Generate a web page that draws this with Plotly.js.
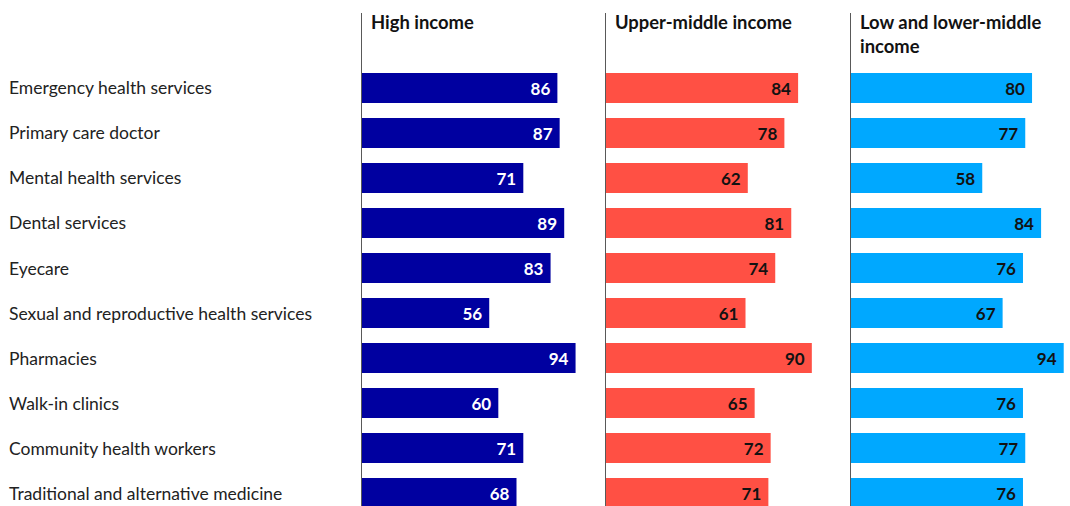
<!DOCTYPE html>
<html>
<head>
<meta charset="utf-8">
<script src="https://cdn.plot.ly/plotly-3.0.1.min.js"></script>
<style>html,body{margin:0;padding:0;background:#fff;}#chart{width:1070px;height:506px;}</style>
</head>
<body>
<div id="chart"></div>
<script>
const categories = [
  "Emergency health services",
  "Primary care doctor",
  "Mental health services",
  "Dental services",
  "Eyecare",
  "Sexual and reproductive health services",
  "Pharmacies",
  "Walk-in clinics",
  "Community health workers",
  "Traditional and alternative medicine"
];
const highIncome = [86, 87, 71, 89, 83, 56, 94, 60, 71, 68];
const upperMiddleIncome = [84, 78, 62, 81, 74, 61, 90, 65, 72, 71];
const lowLowerMiddleIncome = [80, 77, 58, 84, 76, 67, 94, 76, 77, 76];
const panelTitles = ["High income", "Upper-middle income", "Low and lower-middle<br>income"];

const W = 1070, H = 506;
const FONT = "Lato, 'Noto Sans', sans-serif";
const colors = ["#0000a0", "#ff5044", "#00a8ff"];
const textColors = ["#ffffff", "#121212", "#121212"];
const series = [highIncome, upperMiddleIncome, lowLowerMiddleIncome];
const xDomains = [[362, 606], [606, 851], [851, 1070]];
const pxPerUnit = [2.272, 2.287, 2.263];

const traces = series.map((vals, i) => ({
  type: "bar",
  orientation: "h",
  x: vals,
  y: categories,
  xaxis: i === 0 ? "x" : "x" + (i + 1),
  yaxis: i === 0 ? "y" : "y" + (i + 1),
  marker: {color: colors[i], line: {width: 0}},
  width: 0.667,
  texttemplate: "%{x}\u00a0",
  textposition: "inside",
  insidetextanchor: "end",
  textangle: 0,
  constraintext: "none",
  textfont: {family: FONT, size: 17, color: textColors[i], weight: 700},
  hoverinfo: "none",
  cliponaxis: true
}));

const yTop = 13;
const rowCenter0 = 88, rowStep = 45;
const yRange = [(H - rowCenter0) / rowStep, (yTop - rowCenter0) / rowStep];

const layout = {
  width: W, height: H,
  margin: {l: 0, r: 0, t: 0, b: 0},
  paper_bgcolor: "#ffffff",
  plot_bgcolor: "#ffffff",
  showlegend: false,
  bargap: 0.333,
  annotations: [],
  font: {family: FONT}
};

for (let i = 0; i < 3; i++) {
  const sx = i === 0 ? "" : String(i + 1);
  const d = xDomains[i];
  layout["xaxis" + sx] = {
    domain: [d[0] / W, d[1] / W],
    range: [0, (d[1] - d[0]) / pxPerUnit[i]],
    showgrid: false, zeroline: false, showticklabels: false, showline: false,
    fixedrange: true
  };
  layout["yaxis" + sx] = {
    domain: [0, 1 - yTop / H],
    type: "category",
    categoryarray: categories,
    range: yRange,
    anchor: i === 0 ? "x" : "x" + (i + 1),
    showgrid: false, zeroline: false, showticklabels: false,
    showline: true, linecolor: "#595959", linewidth: 1,
    ticks: "",
    fixedrange: true
  };
  layout.annotations.push({
    xref: "paper", yref: "paper",
    x: (d[0] + 7) / W, y: 1 - 9 / H,
    xanchor: "left", yanchor: "top", align: "left",
    text: "<b>" + panelTitles[i] + "</b>",
    showarrow: false,
    font: {family: FONT, size: 18.4, color: "#121212"}
  });
}

categories.forEach(c => {
  layout.annotations.push({
    xref: "paper", yref: "y",
    x: 7 / W, y: c,
    xanchor: "left", yanchor: "middle", align: "left",
    text: c, showarrow: false,
    font: {family: FONT, size: 17.5, color: "#222222", weight: 400}
  });
});

Plotly.newPlot("chart", traces, layout, {displayModeBar: false, staticPlot: true});
</script>
</body>
</html>
